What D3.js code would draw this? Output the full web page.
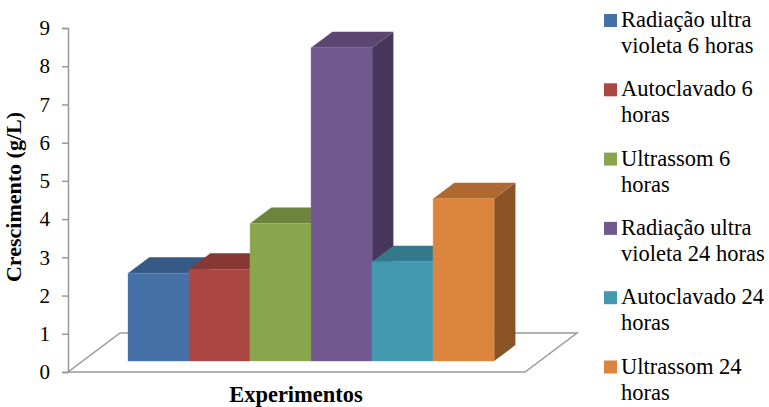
<!DOCTYPE html>
<html lang="pt">
  <head>
    <meta charset="UTF-8" />
    <title>Crescimento (g/L) por experimento</title>
    <style>
      body {
        margin: 0;
        background: #fff;
      }
      svg text {
        font-family: "Liberation Serif", "Times New Roman", serif;
        fill: #000;
      }
    </style>
  </head>
  <body>
    <svg id="chart" width="769" height="407"></svg>
    <script src="https://d3js.org/d3.v7.min.js"></script>
    <script>
      // data
      const experiments = [
        ["Radiação ultra", "violeta 6 horas"],
        ["Autoclavado 6", "horas"],
        ["Ultrassom 6", "horas"],
        ["Radiação ultra", "violeta 24 horas"],
        ["Autoclavado 24", "horas"],
        ["Ultrassom 24", "horas"],
      ];
      const growth = [2.3, 2.4, 3.6, 8.2, 2.6, 4.25];
      const yTicks = [0, 1, 2, 3, 4, 5, 6, 7, 8, 9];
      const colors = ["#4571a6", "#aa4643", "#89a54e", "#71588f", "#4198af", "#db843d"];

      const serif = '"Liberation Serif", "Times New Roman", serif';
      const svg = d3.select("#chart");

      // oblique 3d: front plane + depth vector
      const depth = { dx: 52, dy: -39 };
      const zFront = 0.28,
        zBack = 0.69;

      const x = d3
        .scaleBand()
        .domain(d3.range(growth.length))
        .range([68, 525])
        .paddingInner(0)
        .paddingOuter(0.745);
      const y = d3.scaleLinear().domain([0, 9]).range([372, 28]);

      const proj = (px, v, z) => [px + z * depth.dx, y(v) + z * depth.dy];
      const poly = (pts) => "M" + pts.map((p) => p.join(",")).join("L") + "Z";

      // floor
      svg
        .append("path")
        .attr("d", poly([proj(68, 0, 0), proj(525, 0, 0), proj(525, 0, 1), proj(68, 0, 1)]))
        .attr("fill", "none")
        .attr("stroke", "#999")
        .attr("stroke-width", 1.5);

      // value axis
      const axis = svg
        .append("g")
        .attr("transform", "translate(68,0)")
        .call(d3.axisLeft(y).tickValues(yTicks).tickSize(6).tickPadding(12));
      axis.attr("font-family", serif);
      axis.select(".domain").attr("stroke", "#999").attr("stroke-width", 1.5);
      axis.selectAll(".tick line").attr("stroke", "#999").attr("stroke-width", 1.5);
      axis.selectAll(".tick text").style("font-size", "21px").style("font-family", serif);

      // bars: side, top, then front face
      growth.forEach((v, i) => {
        const x0 = x(i),
          x1 = x0 + x.bandwidth();
        const c = d3.color(colors[i]);
        const g = svg.append("g");
        g.append("path")
          .attr("d", poly([proj(x1, 0, zFront), proj(x1, 0, zBack), proj(x1, v, zBack), proj(x1, v, zFront)]))
          .attr("fill", c.darker(1.3));
        g.append("path")
          .attr("d", poly([proj(x0, v, zFront), proj(x1, v, zFront), proj(x1, v, zBack), proj(x0, v, zBack)]))
          .attr("fill", c.darker(0.65));
        g.append("path")
          .attr("d", poly([proj(x0, 0, zFront), proj(x1, 0, zFront), proj(x1, v, zFront), proj(x0, v, zFront)]))
          .attr("fill", c)
          .attr("stroke", c.brighter(0.4))
          .attr("stroke-opacity", 0.5)
          .attr("stroke-width", 0.8);
      });

      // axis titles
      svg
        .append("text")
        .attr("transform", "translate(21,197) rotate(-90)")
        .attr("text-anchor", "middle")
        .style("font-family", serif)
        .style("font-size", "22px")
        .style("font-weight", "bold")
        .text("Crescimento (g/L)");

      svg
        .append("text")
        .attr("x", 296)
        .attr("y", 402)
        .attr("text-anchor", "middle")
        .style("font-family", serif)
        .style("font-size", "22.5px")
        .style("font-weight", "bold")
        .text("Experimentos");

      // legend
      const legend = svg
        .append("g")
        .selectAll("g")
        .data(experiments)
        .join("g")
        .attr("transform", (d, i) => `translate(604,${27 + i * 69.3})`);
      legend
        .append("rect")
        .attr("y", -13)
        .attr("width", 13)
        .attr("height", 13)
        .attr("fill", (d, i) => colors[i]);
      legend
        .append("text")
        .attr("x", 17)
        .style("font-family", serif)
        .style("font-size", "22.5px")
        .selectAll("tspan")
        .data((d) => d)
        .join("tspan")
        .attr("x", 17)
        .attr("dy", (d, j) => (j ? 26 : 0))
        .text((d) => d);
    </script>
  </body>
</html>
